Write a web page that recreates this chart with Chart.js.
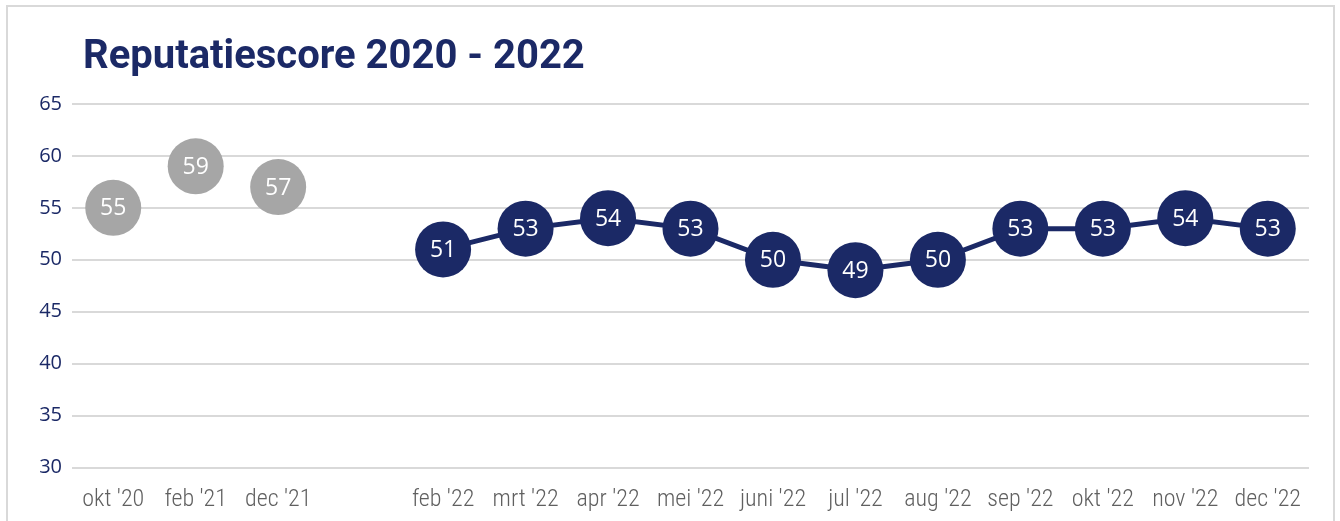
<!DOCTYPE html>
<html>
<head>
<meta charset="utf-8">
<script src="https://cdn.jsdelivr.net/npm/chart.js@4.4.1/dist/chart.umd.min.js"></script>
<style>
    html, body { margin: 0; padding: 0; background: #fff; overflow: hidden; }
    #frame {
        position: absolute; left: 6px; top: 5px; width: 1329px; height: 540px;
        border: 2px solid #d9d9d9; box-sizing: border-box;
    }
    #title {
        position: absolute; left: 83px; top: 31px; margin: 0;
        font-family: 'Roboto', sans-serif; font-weight: bold; font-size: 40px;
        line-height: 48px; color: #1b2966; white-space: nowrap;
    }
    #wrap { position: absolute; left: 0; top: 0; width: 1340px; height: 521px; }
</style>
</head>
<body>
<div id="frame"></div>
<div id="wrap"><canvas id="chart01"></canvas></div>
<h1 id="title">Reputatiescore 2020 - 2022</h1>
<script>
// categories (empty slot between dec '21 and feb '22)
const labels = ["okt '20", "feb '21", "dec '21", '', "feb '22", "mrt '22", "apr '22", "mei '22",
    "juni '22", "jul '22", "aug '22", "sep '22", "okt '22", "nov '22", "dec '22"];
const earlierScores = [55, 59, 57, null, null, null, null, null, null, null, null, null, null, null, null];
const scores2022 = [null, null, null, null, 51, 53, 54, 53, 50, 49, 50, 53, 53, 54, 53];
const yTicks = [30, 35, 40, 45, 50, 55, 60, 65];

const NAVY = '#1b2966';
const GREY = '#a6a6a6';
const GRID = '#d9d9d9';

// draws the value in white inside every point
const pointLabels = {
    id: 'pointLabels',
    afterDatasetsDraw(chart) {
        const { ctx } = chart;
        ctx.save();
        ctx.fillStyle = '#ffffff';
        ctx.font = '23px "Open Sans", sans-serif';
        ctx.textAlign = 'center';
        ctx.textBaseline = 'middle';
        chart.data.datasets.forEach((ds, i) => {
            const meta = chart.getDatasetMeta(i);
            meta.data.forEach((pt, k) => {
                const v = ds.data[k];
                if (v === null || v === undefined) return;
                ctx.fillText(String(v), pt.x, pt.y + 1);
            });
        });
        ctx.restore();
    },
};

const ctx = document.getElementById('chart01').getContext('2d');
const chart = new Chart(ctx, {
    type: 'line',
    data: {
        labels,
        datasets: [
            {
                label: '2020 - 2021',
                data: earlierScores,
                showLine: false,
                pointRadius: 28,
                pointBackgroundColor: GREY,
                pointBorderWidth: 0,
                pointHoverRadius: 28,
            },
            {
                label: '2022',
                data: scores2022,
                borderColor: NAVY,
                borderWidth: 5,
                pointRadius: 28,
                pointBackgroundColor: NAVY,
                pointBorderWidth: 0,
                pointHoverRadius: 28,
                spanGaps: false,
            },
        ],
    },
    options: {
        responsive: true,
        maintainAspectRatio: false,
        animation: false,
        events: [],
        layout: {
            padding: { left: 0, right: 31, top: 104, bottom: 0 },
        },
        plugins: {
            legend: { display: false },
            title: { display: false },
            tooltip: { enabled: false },
        },
        scales: {
            x: {
                offset: true,
                grid: { display: false },
                border: { display: false },
                ticks: {
                    color: '#606060',
                    padding: 10,
                    autoSkip: false,
                    maxRotation: 0,
                    font: { family: '"Liberation Sans Narrow", "Roboto Condensed", Roboto, sans-serif', size: 24, weight: '300' },
                },
                afterFit(scale) {
                    scale.height = 53.5;
                },
            },
            y: {
                min: yTicks[0],
                max: yTicks[yTicks.length - 1],
                afterBuildTicks(scale) {
                    scale.ticks = yTicks.map((v) => ({ value: v }));
                },
                grid: { color: GRID, lineWidth: 2, drawTicks: false },
                border: { display: false },
                ticks: {
                    color: NAVY,
                    padding: 10,
                    font: { family: '"Open Sans", sans-serif', size: 20 },
                },
                afterFit(scale) {
                    scale.width = 72;
                },
            },
        },
    },
    plugins: [pointLabels],
});
</script>
</body>
</html>
